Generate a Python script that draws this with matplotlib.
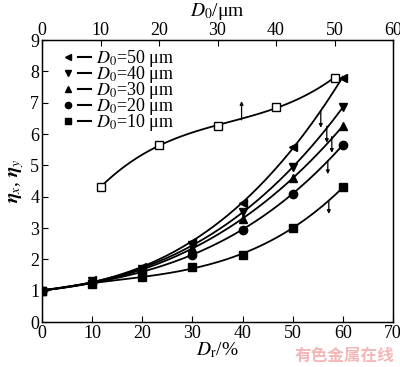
import numpy as np
import matplotlib
matplotlib.use("Agg")
import matplotlib.pyplot as plt
from matplotlib.lines import Line2D
from matplotlib.legend_handler import HandlerTuple

plt.rcParams['font.family'] = ['Liberation Serif', 'DejaVu Serif']
plt.rcParams['mathtext.fontset'] = 'stix'

dr = [0, 10, 20, 30, 40, 50, 60]
eta_50 = [1.0, 1.33, 1.75, 2.55, 3.8, 5.6, 7.8]
eta_40 = [1.0, 1.3, 1.7, 2.45, 3.5, 4.95, 6.85]
eta_30 = [1.0, 1.28, 1.65, 2.35, 3.3, 4.6, 6.25]
eta_20 = [1.0, 1.25, 1.6, 2.15, 2.95, 4.1, 5.65]
eta_10 = [1.0, 1.2, 1.45, 1.75, 2.15, 3.0, 4.3]
d0 = [10, 20, 30, 40, 50]
eta_d0 = [4.3, 5.65, 6.25, 6.85, 7.8]

series = [(eta_50, '<', '$D_0$=50 μm'), (eta_40, 'v', '$D_0$=40 μm'),
          (eta_30, '^', '$D_0$=30 μm'), (eta_20, 'o', '$D_0$=20 μm'),
          (eta_10, 's', '$D_0$=10 μm')]

fig = plt.figure(figsize=(4.0, 3.67), dpi=100)
ax = fig.add_axes([0.105, 0.1226, 0.8775, 0.7684])

xs = np.linspace(0, 60, 200)
handles, labels = [], []
for vals, m, lab in series:
    c = np.polyfit(dr, vals, 3)
    ax.plot(xs, np.polyval(c, xs), color='black', lw=1.3)
    ax.plot(dr, vals, linestyle='none', marker=m, color='black', ms=6)
    handles.append((Line2D([], [], ls='none', marker=m, color='black', ms=4.5),
                    Line2D([], [], ls='-', color='black', lw=1.5)))
    labels.append(lab)

ax.set_xlim(0, 70)
ax.set_ylim(0, 9)
ax.set_xticks(range(0, 71, 10))
ax.set_yticks(range(0, 10))
ax.tick_params(direction='in', labelsize=13, length=4, right=False, pad=2)
ax.set_xlabel('$D_\\mathrm{r}$/%', fontsize=14, labelpad=-1)
ax.set_ylabel('$\\boldsymbol{\\eta}_x$, $\\boldsymbol{\\eta}_y$', fontsize=14, labelpad=3)

ax2 = ax.twiny()
ax2.set_xlim(0, 60)
ax2.set_xticks(range(0, 61, 10))
ax2.tick_params(direction='in', labelsize=13, length=4, pad=1)
ax2.set_xlabel('$D_0$/μm', fontsize=14, labelpad=4)
xs2 = np.linspace(10, 50, 100)
c2 = np.polyfit(d0, eta_d0, 3)
ax2.plot(xs2, np.polyval(c2, xs2), color='black', lw=1.3)
ax2.plot(d0, eta_d0, linestyle='none', marker='s', mfc='white', mec='black', ms=6)

for sp in ax.spines.values():
    sp.set_linewidth(1.0)

leg = ax.legend(handles, labels, loc='upper left', frameon=False, fontsize=13,
                handlelength=1.6, handletextpad=0.3, labelspacing=-0.28,
                borderaxespad=0.3, bbox_to_anchor=(0.02, 1.015),
                handler_map={tuple: HandlerTuple(ndivide=2, pad=0.2)})

arrows = [(39.8, 6.45, 7.05), (55.6, 6.75, 6.2), (56.8, 6.25, 5.72),
          (57.8, 5.92, 5.4), (57.0, 5.15, 4.72), (57.2, 3.88, 3.45)]
for x, y0, y1 in arrows:
    ax.annotate('', xy=(x, y1), xytext=(x, y0),
                arrowprops=dict(arrowstyle='-|>', color='black', lw=0.9,
                                mutation_scale=5, shrinkA=0, shrinkB=0))

fig.text(0.985, 0.005, '有色金属在线', color='#f4b6b6', fontsize=12,
         ha='right', va='bottom', family=['Noto Sans CJK SC'], fontweight='bold')

fig.savefig('out.png', dpi=100)
